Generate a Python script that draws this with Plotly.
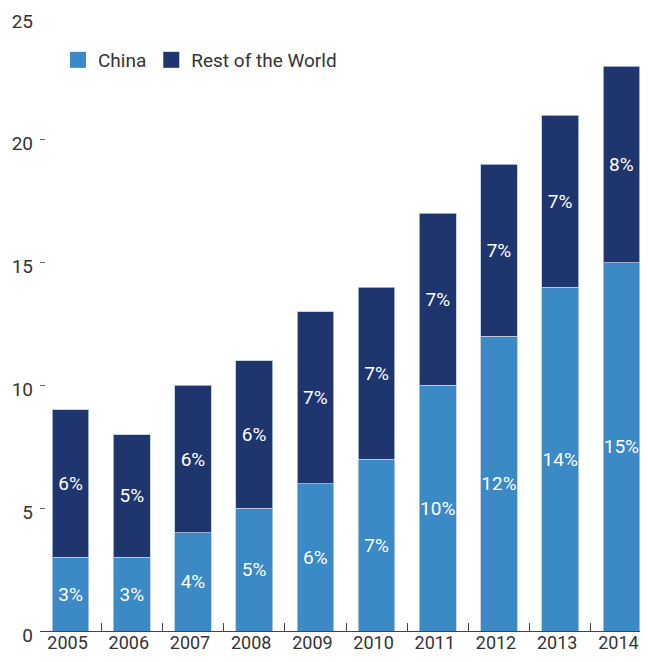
import plotly.graph_objects as go

years = ["2005", "2006", "2007", "2008", "2009", "2010", "2011", "2012", "2013", "2014"]
china = [3, 3, 4, 5, 6, 7, 10, 12, 14, 15]
rest_of_world = [6, 5, 6, 6, 7, 7, 7, 7, 7, 8]
china_labels = ["3%", "3%", "4%", "5%", "6%", "7%", "10%", "12%", "14%", "15%"]
row_labels = ["6%", "5%", "6%", "6%", "7%", "7%", "7%", "7%", "7%", "8%"]
y_ticks = [0, 5, 10, 15, 20, 25]

CHINA_C = "#3b89c5"
ROW_C = "#1f356e"
FONT = "Roboto, 'Liberation Sans', sans-serif"

fig = go.Figure()
fig.add_bar(x=years, y=china, name="China", marker=dict(color=CHINA_C, line=dict(color="#b9cbe2", width=0.8)),
            text=china_labels, textposition="inside", insidetextanchor="middle", textangle=0,
            constraintext="none", cliponaxis=False,
            textfont=dict(color="white", size=19, family=FONT), showlegend=False, width=0.6)
fig.add_bar(x=years, y=rest_of_world, name="Rest of the World", marker=dict(color=ROW_C, line=dict(color="#b9cbe2", width=0.8)),
            text=row_labels, textposition="inside", insidetextanchor="middle", textangle=0,
            constraintext="none", cliponaxis=False,
            textfont=dict(color="white", size=19, family=FONT), showlegend=False, width=0.6)
# legend entries
fig.add_scatter(x=[None], y=[None], mode="markers", name="China",
                marker=dict(symbol="square", size=17, color=CHINA_C))
fig.add_scatter(x=[None], y=[None], mode="markers", name="Rest of the World",
                marker=dict(symbol="square", size=17, color=ROW_C))

# page body has an 8px margin, so the figure is sized to fit the 648x662 window exactly
fig.update_layout(
    width=632, height=646,
    margin=dict(l=32, r=0, t=9, b=23, autoexpand=False),
    barmode="stack",
    plot_bgcolor="white", paper_bgcolor="white",
    font=dict(family=FONT, size=19, color="#333333"),
    legend=dict(orientation="h", x=0.03, y=0.930, xanchor="left", yanchor="middle",
                traceorder="normal", itemwidth=30,
                font=dict(size=19, color="#333333"),
                bgcolor="rgba(0,0,0,0)"),
    xaxis=dict(type="category", range=[-0.5, 9.304], showline=True, linecolor="#444444", linewidth=1,
               ticks="inside", tickson="boundaries", ticklen=8, tickcolor="#444444", tickwidth=1,
               showgrid=False, ticklabelstandoff=-5, ticklabelshift=-3, automargin=False,
               tickfont=dict(size=18)),
    yaxis=dict(range=[0, 25], tickvals=y_ticks, showline=False, showgrid=False, zeroline=False,
               ticks="inside", ticklen=5, tickcolor="#666666", tickwidth=1,
               ticklabelstandoff=6, ticklabelshift=4, automargin=False),
)

fig.write_html("out.html")
